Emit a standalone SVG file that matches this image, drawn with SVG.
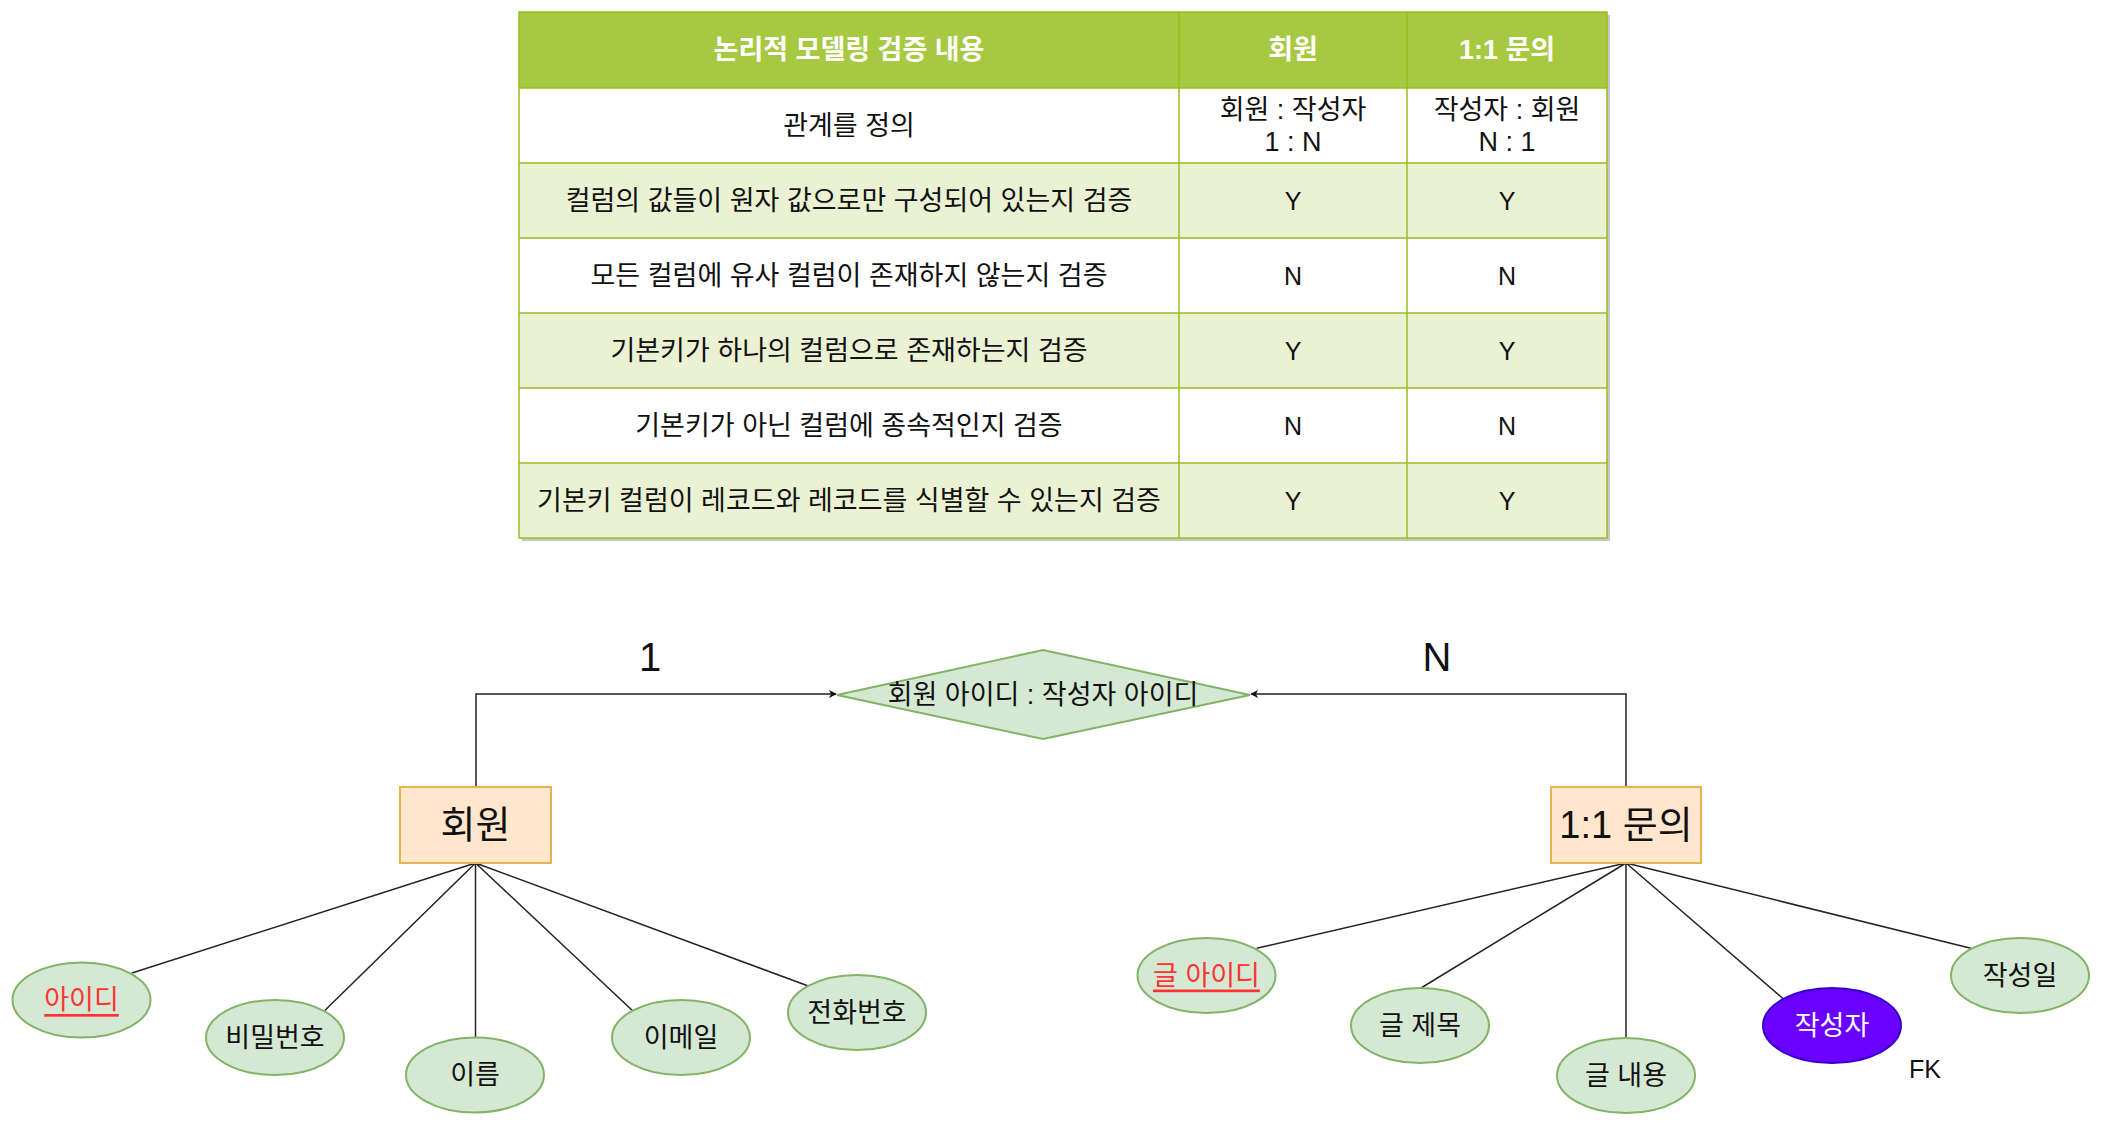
<svg xmlns="http://www.w3.org/2000/svg" width="2103" height="1126" viewBox="0 0 2103 1126">
<style>
text{font-family:"Liberation Sans","Noto Sans CJK KR",sans-serif;fill:#111;text-anchor:middle;dominant-baseline:central}
.th{font-size:27px;font-weight:bold;fill:#fff}
.td{font-size:27px}
.yn{font-size:25px}
.grid{stroke:#98bf21;stroke-width:1.5;fill:none}
.ent{fill:#ffe6cc;stroke:#e3b44f;stroke-width:2}
.ent-t{font-size:38px}
.attr{fill:#d5e8d4;stroke:#82b366;stroke-width:2}
.attr-t{font-size:27px}
.pk{fill:#ff3333;text-decoration:underline}
.fk{fill:#6a00ff;stroke:#3700cc;stroke-width:2}
.conn{stroke:#222;stroke-width:1.5;fill:none}
.card{font-size:40px}
</style>
<defs>
<marker id="arr" viewBox="0 0 10 10" refX="9" refY="5" markerWidth="8" markerHeight="8" markerUnits="userSpaceOnUse" orient="auto">
<path d="M0,0 L10,5 L0,10 L3,5 z" fill="#111"/>
</marker>
</defs>
<rect width="2103" height="1126" fill="#fff"/>

<g id="table">
<rect x="522" y="15" width="1088" height="526" fill="#999" opacity="0.55"/>
<rect x="519" y="12" width="1088" height="76" fill="#a7c942"/>
<rect x="519" y="88" width="1088" height="75" fill="#fff"/>
<rect x="519" y="163" width="1088" height="75" fill="#eaf2d3"/>
<rect x="519" y="238" width="1088" height="75" fill="#fff"/>
<rect x="519" y="313" width="1088" height="75" fill="#eaf2d3"/>
<rect x="519" y="388" width="1088" height="75" fill="#fff"/>
<rect x="519" y="463" width="1088" height="75" fill="#eaf2d3"/>
<rect class="grid" x="519" y="12" width="1088" height="526"/>
<path class="grid" d="M519,88H1607M519,163H1607M519,238H1607M519,313H1607M519,388H1607M519,463H1607M1179,12V538M1407,12V538"/>
<text class="th" x="849" y="50">논리적 모델링 검증 내용</text>
<text class="th" x="1293" y="50">회원</text>
<text class="th" x="1507" y="50">1:1 문의</text>
<text class="td" x="849" y="125.5">관계를 정의</text>
<text class="td" x="1293" y="110">회원 : 작성자</text>
<text class="td" x="1293" y="142">1 : N</text>
<text class="td" x="1507" y="110">작성자 : 회원</text>
<text class="td" x="1507" y="142">N : 1</text>
<text class="td" x="849" y="200.5">컬럼의 값들이 원자 값으로만 구성되어 있는지 검증</text>
<text class="yn" x="1293" y="200.5">Y</text>
<text class="yn" x="1507" y="200.5">Y</text>
<text class="td" x="849" y="275.5">모든 컬럼에 유사 컬럼이 존재하지 않는지 검증</text>
<text class="yn" x="1293" y="275.5">N</text>
<text class="yn" x="1507" y="275.5">N</text>
<text class="td" x="849" y="350.5">기본키가 하나의 컬럼으로 존재하는지 검증</text>
<text class="yn" x="1293" y="350.5">Y</text>
<text class="yn" x="1507" y="350.5">Y</text>
<text class="td" x="849" y="425.5">기본키가 아닌 컬럼에 종속적인지 검증</text>
<text class="yn" x="1293" y="425.5">N</text>
<text class="yn" x="1507" y="425.5">N</text>
<text class="td" x="849" y="500.5">기본키 컬럼이 레코드와 레코드를 식별할 수 있는지 검증</text>
<text class="yn" x="1293" y="500.5">Y</text>
<text class="yn" x="1507" y="500.5">Y</text>
</g>

<g id="connectors">
<path class="conn" d="M476,787V694H836" marker-end="url(#arr)"/>
<path class="conn" d="M1626,787V694H1251" marker-end="url(#arr)"/>
<path class="conn" d="M475.5,863L132,973M475.5,863L324.5,1010.7M475.5,863V1037M475.5,863L632.6,1010.7M475.5,863L808.3,986"/>
<path class="conn" d="M1626,863L1256.7,948.3M1626,863L1421,988M1626,863V1038M1626,863L1782.7,998.3M1626,863L1970.8,948.3"/>
<text class="card" x="650" y="657">1</text>
<text class="card" x="1437" y="657">N</text>
</g>

<g id="rel">
<polygon points="837,695 1043,650 1250,695 1043,739" class="attr"/>
<text x="1043" y="695" style="font-size:27px">회원 아이디 : 작성자 아이디</text>
</g>

<g id="member">
<rect class="ent" x="400" y="787" width="151" height="76"/>
<text class="ent-t" x="475.5" y="825">회원</text>
</g>
<g id="inquiry">
<rect class="ent" x="1551" y="787" width="150" height="76"/>
<text class="ent-t" x="1626" y="825">1:1 문의</text>
</g>

<g id="m-id"><ellipse class="attr" cx="81.5" cy="1000" rx="69" ry="37.5"/><text class="attr-t pk" x="81.5" y="1000">아이디</text></g>
<g id="m-pw"><ellipse class="attr" cx="275" cy="1037.5" rx="69" ry="37.5"/><text class="attr-t" x="275" y="1037.5">비밀번호</text></g>
<g id="m-name"><ellipse class="attr" cx="475" cy="1075" rx="69" ry="37.5"/><text class="attr-t" x="475" y="1075">이름</text></g>
<g id="m-email"><ellipse class="attr" cx="681" cy="1037.5" rx="69" ry="37.5"/><text class="attr-t" x="681" y="1037.5">이메일</text></g>
<g id="m-phone"><ellipse class="attr" cx="857" cy="1012.5" rx="69" ry="37.5"/><text class="attr-t" x="857" y="1012.5">전화번호</text></g>

<g id="q-id"><ellipse class="attr" cx="1206.5" cy="975.5" rx="69" ry="37.5"/><text class="attr-t pk" x="1206.5" y="975.5">글 아이디</text></g>
<g id="q-title"><ellipse class="attr" cx="1420" cy="1025.5" rx="69" ry="37.5"/><text class="attr-t" x="1420" y="1025.5">글 제목</text></g>
<g id="q-body"><ellipse class="attr" cx="1626" cy="1075.5" rx="69" ry="37.5"/><text class="attr-t" x="1626" y="1075.5">글 내용</text></g>
<g id="q-writer"><ellipse class="fk" cx="1832" cy="1025.5" rx="69" ry="37.5"/><text class="attr-t" x="1832" y="1025.5" style="fill:#fff">작성자</text><text class="yn" x="1925" y="1069">FK</text></g>
<g id="q-date"><ellipse class="attr" cx="2020" cy="975.5" rx="69" ry="37.5"/><text class="attr-t" x="2020" y="975.5">작성일</text></g>
</svg>
